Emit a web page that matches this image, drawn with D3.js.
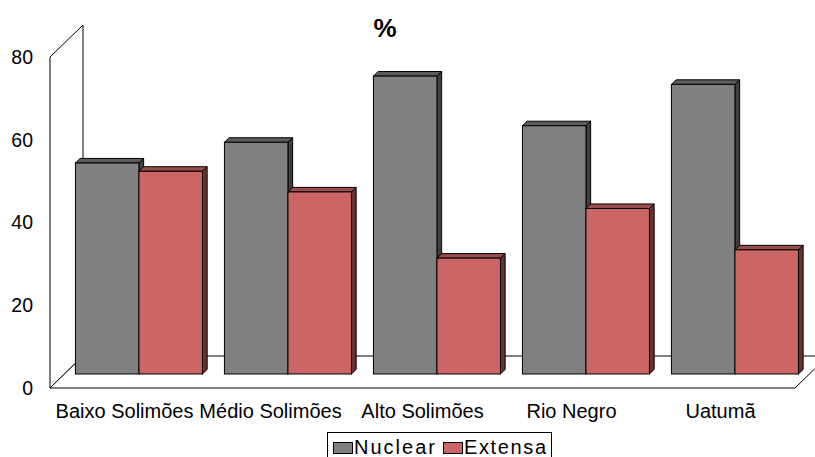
<!DOCTYPE html>
<html>
<head>
<meta charset="utf-8">
<script src="https://cdn.jsdelivr.net/npm/d3@7"></script>
<style>
  html, body { margin: 0; padding: 0; background: #fff; }
  svg { display: block; font-family: "Liberation Sans", Arial, sans-serif; }
</style>
</head>
<body>
<svg id="chart" width="815" height="457"></svg>
<script>
// Household type share (%) per region
const categories = ["Baixo Solimões", "Médio Solimões", "Alto Solimões", "Rio Negro", "Uatumã"];
const seriesNames = ["Nuclear", "Extensa"];
const nuclear = [51, 56, 72, 60, 70];
const extensa = [49, 44, 28, 40, 30];
const yTicks = [0, 20, 40, 60, 80];
const title = "%";

const seriesValues = [nuclear, extensa];
const palette = {
  Nuclear: { front: "#808080", top: "#5c5c5c", side: "#404040" },
  Extensa: { front: "#cc6666", top: "#994d4d", side: "#663333" }
};

const svg = d3.select("#chart");

// Front plane of the oblique 3D box
const x = d3.scaleBand().domain(categories).range([50, 795]).padding(0);
const y = d3.scaleLinear().domain([0, 80]).range([388, 57]);

// Depth vector of the whole box, and the depth slab occupied by the bars
const depth = { dx: 33, dy: -32 };
const barFront = 0.4375, barBack = 0.58;
const off = f => [depth.dx * f, depth.dy * f];

const xs = d3.scaleBand().domain(seriesNames).range([0, x.bandwidth()]).paddingInner(0).paddingOuter(0.173);

const line = d3.line();

// Left wall
const [bx, by] = off(1);
svg.append("path")
  .attr("d", line([[50, y(0)], [50, y(80)], [50 + bx, y(80) + by], [50 + bx, y(0) + by]]) + "Z")
  .attr("fill", "#fff").attr("stroke", "#000").attr("stroke-width", 1);

// Floor
svg.append("path")
  .attr("d", line([[50, y(0)], [795, y(0)], [795 + bx, y(0) + by], [50 + bx, y(0) + by]]) + "Z")
  .attr("fill", "#fff").attr("stroke", "#000").attr("stroke-width", 1);

// Bars, painted left to right so nearer faces overlap correctly
const bars = [];
categories.forEach((c, i) => {
  seriesNames.forEach((s, j) => {
    bars.push({ cat: c, series: s, value: seriesValues[j][i] });
  });
});

const [fx, fy] = off(barFront);
const [kx, ky] = off(barBack);
const ddx = kx - fx, ddy = ky - fy;

const g = svg.append("g").attr("class", "bars");
bars.forEach(d => {
  const x0 = x(d.cat) + xs(d.series) + fx;
  const x1 = x0 + xs.bandwidth();
  const yb = y(0) + fy;
  const yt = y(d.value) + fy;
  const col = palette[d.series];
  const bg = g.append("g");
  // side face
  bg.append("path")
    .attr("d", line([[x1, yb], [x1, yt], [x1 + ddx, yt + ddy], [x1 + ddx, yb + ddy]]) + "Z")
    .attr("fill", col.side).attr("stroke", "#000").attr("stroke-width", 1).attr("stroke-linejoin", "round");
  // top face
  bg.append("path")
    .attr("d", line([[x0, yt], [x1, yt], [x1 + ddx, yt + ddy], [x0 + ddx, yt + ddy]]) + "Z")
    .attr("fill", col.top).attr("stroke", "#000").attr("stroke-width", 1).attr("stroke-linejoin", "round");
  // front face
  bg.append("rect")
    .attr("x", x0).attr("y", yt).attr("width", x1 - x0).attr("height", yb - yt)
    .attr("fill", col.front).attr("stroke", "#000").attr("stroke-width", 1);
});

// Value axis labels
const yAxis = d3.axisLeft(y).tickValues(yTicks).tickSize(0).tickPadding(17);
const yg = svg.append("g").attr("transform", "translate(50,0)").call(yAxis);
yg.select(".domain").remove();
yg.selectAll("text").attr("font-size", 19.5).attr("font-family", "Liberation Sans, Arial, sans-serif").attr("fill", "#000");

// Category axis labels
const xAxis = d3.axisBottom(x).tickSize(0).tickPadding(16);
const xg = svg.append("g").attr("transform", `translate(0,${y(0)})`).call(xAxis);
xg.select(".domain").remove();
xg.selectAll("text").attr("font-size", 20).attr("font-family", "Liberation Sans, Arial, sans-serif").attr("fill", "#000");
xg.selectAll(".tick").filter(d => d === "Médio Solimões").select("text").attr("dx", -3);

// Title
svg.append("text")
  .attr("x", 385).attr("y", 37).attr("text-anchor", "middle")
  .attr("font-size", 26).attr("font-weight", "bold").text(title);

// Legend
const legend = svg.append("g").attr("class", "legend");
legend.append("rect").attr("x", 327.5).attr("y", 432.5).attr("width", 224).attr("height", 40)
  .attr("fill", "#fff").attr("stroke", "#000").attr("stroke-width", 1);
const legendX = [333, 443];
const legendTextLen = [81, 82];
seriesNames.forEach((s, i) => {
  legend.append("rect").attr("x", legendX[i] + 0.5).attr("y", 442.5).attr("width", 19).attr("height", 11)
    .attr("fill", palette[s].front).attr("stroke", "#000").attr("stroke-width", 1);
  legend.append("text").attr("x", legendX[i] + 21).attr("y", 454)
    .attr("font-size", 20).attr("textLength", legendTextLen[i]).attr("lengthAdjust", "spacing")
    .text(s);
});
</script>
</body>
</html>
